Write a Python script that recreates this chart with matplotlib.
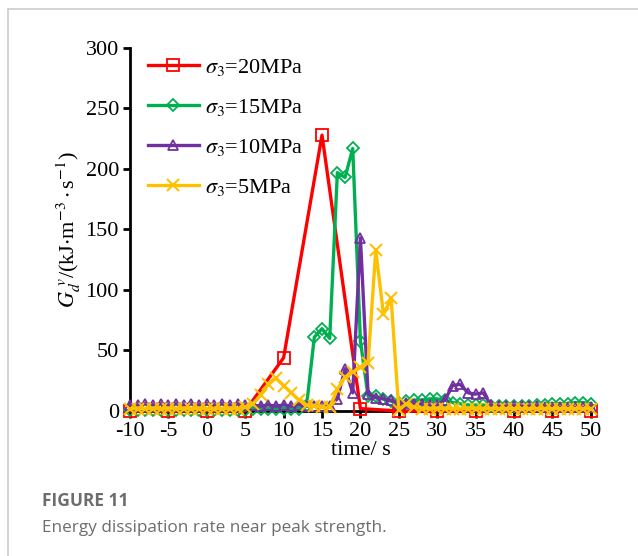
import numpy as np
import matplotlib.pyplot as plt
from matplotlib.lines import Line2D

plt.rcParams['font.family'] = ['Liberation Serif', 'DejaVu Serif']
plt.rcParams['mathtext.fontset'] = 'stix'
plt.rcParams['axes.unicode_minus'] = False

# time axis (s)
t_red = [-10, -5, 0, 5, 10, 15, 20, 25, 30, 35, 40, 45, 50]
t = list(range(-10, 51))

# sigma3 = 20 MPa (5 s steps)
g_20 = [0, 0, 0, 0, 44, 228, 2, 0, 0, 0, 0, 0, 0]

# sigma3 = 15 MPa, t = -10 .. 50
g_15 = [1, 1, 1, 1, 1, 1, 1, 1, 1, 1,      # -10..-1
        1, 1, 1, 1, 1, 1, 2, 2, 2, 2,      # 0..9
        2, 2, 2, 5, 61, 68, 60, 197, 193, 217,  # 10..19
        58, 12, 12, 10, 8, 7, 8, 9, 9, 10,  # 20..29
        10, 9, 7, 6, 5, 5, 5, 4, 4, 4,      # 30..39
        4, 4, 4, 5, 5, 6, 6, 6, 7, 7,      # 40..49
        6]                                  # 50

# sigma3 = 10 MPa
g_10 = [5, 5, 6, 5, 6, 5, 6, 5, 6, 5,
        6, 5, 6, 5, 6, 5, 5, 4, 5, 4,
        5, 4, 5, 4, 4, 4, 4, 10, 35, 15,
        143, 14, 11, 10, 9, 6, 7, 6, 6, 5,
        5, 9, 21, 22, 15, 14, 15, 5, 4, 4,
        4, 4, 4, 4, 3, 3, 3, 3, 3, 3,
        3]

# sigma3 = 5 MPa
g_5 = [2, 2, 2, 2, 2, 2, 2, 2, 2, 2,
       2, 2, 2, 2, 2, 3, 6, 13, 22, 27,
       21, 15, 9, 5, 4, 3, 3, 18, 28, 32,
       36, 40, 133, 80, 93, 1, 6, 3, 2, 2,
       2, 2, 2, 2, 2, 2, 2, 2, 2, 2,
       2, 2, 2, 2, 2, 2, 2, 2, 2, 2,
       2]

labels = [r'$\sigma_3$=20MPa', r'$\sigma_3$=15MPa',
          r'$\sigma_3$=10MPa', r'$\sigma_3$=5MPa']
colors = ['#ff0000', '#00b050', '#7030a0', '#ffc000']

fig = plt.figure(figsize=(6.38, 5.56), dpi=100)
ax = fig.add_axes([0.2038, 0.2608, 0.7222, 0.6529])

ax.plot(t_red, g_20, color=colors[0], lw=2.4, marker='s', ms=9,
        mfc='none', mew=1.3, label=labels[0], clip_on=False, zorder=3)
ax.plot(t, g_15, color=colors[1], lw=2.4, marker='D', ms=6.5,
        mfc='none', mew=1.3, label=labels[1], clip_on=False, zorder=3)
ax.plot(t, g_10, color=colors[2], lw=2.4, marker='^', ms=7.5,
        mfc='none', mew=1.3, label=labels[2], clip_on=False, zorder=3)
ax.plot(t, g_5, color=colors[3], lw=2.4, marker='x', ms=9,
        mew=1.5, label=labels[3], clip_on=False, zorder=3)

ax.set_xlim(-10, 50)
ax.set_ylim(0, 300)
ax.set_xticks(range(-10, 51, 5))
ax.set_yticks(range(0, 301, 50))
ax.spines['top'].set_visible(False)
ax.spines['right'].set_visible(False)
ax.spines['left'].set_linewidth(2)
ax.spines['bottom'].set_linewidth(2)
ax.tick_params(labelsize=16, width=2, length=5, direction='out', pad=3)

ax.set_xlabel('time/ s', fontsize=16, labelpad=0)
ax.set_ylabel(r'$G_d^{\ v}$/(kJ$\cdot$m$^{-3}\cdot$s$^{-1}$)', fontsize=16,
              labelpad=2)

ax.legend(loc='upper left', bbox_to_anchor=(-0.005, 1.03), frameon=False,
          fontsize=16, handlelength=2.3, labelspacing=0.85, handletextpad=0.3)

# card border
grey = '#cccccc'
fig.add_artist(Line2D([0.012, 0.012], [0.0, 0.984], color=grey, lw=1.2))
fig.add_artist(Line2D([0.012, 1.0], [0.984, 0.984], color=grey, lw=1.2))

fig.text(0.066, 0.090, 'FIGURE 11', family='Open Sans', fontweight='bold',
         fontsize=12.5, color='#6d6d6d')
fig.text(0.066, 0.043, 'Energy dissipation rate near peak strength.',
         family='Open Sans', fontsize=12.3, color='#6d6d6d')

fig.savefig('out.png', dpi=100)
